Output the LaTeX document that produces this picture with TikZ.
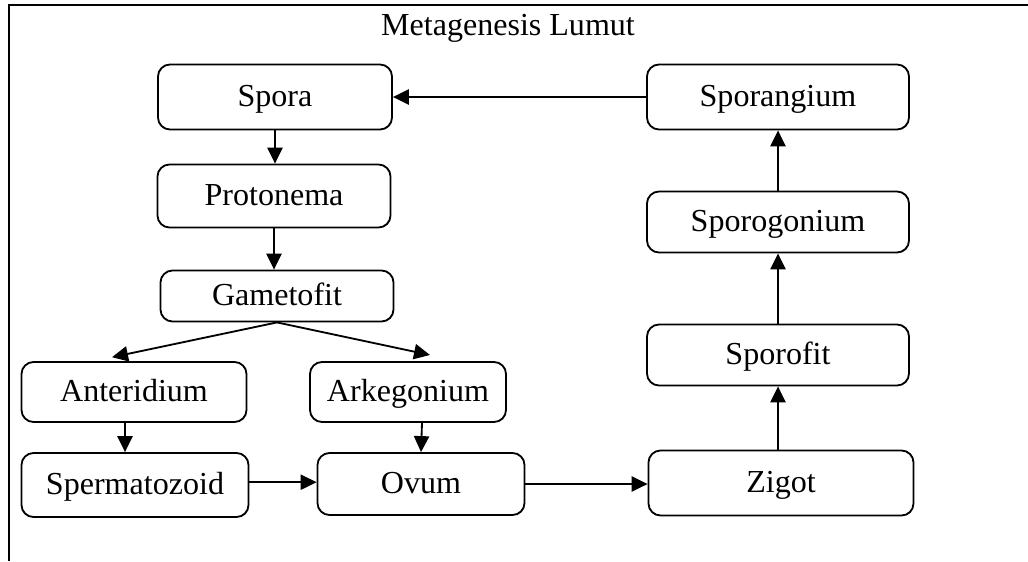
\documentclass[tikz,border=0pt]{standalone}
\usepackage{fontspec}
\setmainfont{Liberation Serif}
\usetikzlibrary{arrows.meta}
\begin{document}
\begin{tikzpicture}[
        box/.style={draw,rounded corners=0.3cm,line width=1.3pt,inner sep=0pt,text height=17pt,text depth=3pt,font=\fontsize{22.8}{27}\selectfont},
        arr/.style={line width=1.3pt,-{Triangle[length=0.4cm,width=0.38cm]}}]
        \useasboundingbox (0,0) rectangle (25.7,-14.025);
        \draw[line width=1.3pt] (25.7,-0.125)--(0.225,-0.125)--(0.225,-14.025);
        \node (title) at (12.7,-0.7) {\fontsize{22.8}{27}\selectfont Metagenesis Lumut};
        \node[box,minimum width=5.85cm,minimum height=1.625cm] (spora) at (6.875,-2.425) {Spora};
        \node[box,minimum width=6.55cm,minimum height=1.625cm] (sporangium) at (19.45,-2.425) {Sporangium};
        \node[box,minimum width=5.825cm,minimum height=1.575cm] (protonema) at (6.85,-4.9) {Protonema};
        \node[box,minimum width=5.825cm,minimum height=1.275cm] (gametofit) at (6.925,-7.4) {Gametofit};
        \node[box,minimum width=5.625cm,minimum height=1.5cm] (anteridium) at (3.35,-9.8) {Anteridium};
        \node[box,minimum width=4.9cm,minimum height=1.5cm] (arkegonium) at (10.2,-9.8) {Arkegonium};
        \node[box,minimum width=5.675cm,minimum height=1.6cm] (spermatozoid) at (3.375,-12.125) {Spermatozoid};
        \node[box,minimum width=5.175cm,minimum height=1.55cm] (ovum) at (10.525,-12.1) {Ovum};
        \node[box,minimum width=6.625cm,minimum height=1.625cm] (zigot) at (19.525,-12.075) {Zigot};
        \node[box,minimum width=6.55cm,minimum height=1.525cm] (sporofit) at (19.45,-8.875) {Sporofit};
        \node[box,minimum width=6.55cm,minimum height=1.525cm] (sporogonium) at (19.45,-5.55) {Sporogonium};
        \coordinate (antin) at (2.8,-8.93);
        \coordinate (arkin) at (10.75,-8.875);
        \draw[arr] (sporangium.west) -- (sporangium.west -| spora.east);
        \draw[arr] (spora.south) -- (spora.south |- protonema.north);
        \draw[arr] (protonema.south) -- (protonema.south |- gametofit.north);
        \draw[arr] (gametofit.south) -- (antin);
        \draw[arr] (gametofit.south) -- (arkin);
        \draw[arr] ([xshift=-0.225cm]anteridium.south) -- ([xshift=-0.25cm]spermatozoid.north);
        \draw[arr] ([xshift=0.35cm]arkegonium.south) -- (ovum.north);
        \draw[arr] ([yshift=0.07cm]spermatozoid.east) -- ([yshift=0.07cm]spermatozoid.east -| ovum.west);
        \draw[arr] (ovum.east) -- (ovum.east -| zigot.west);
        \draw[arr] (sporofit.south |- zigot.north) -- (sporofit.south);
        \draw[arr] (sporofit.north) -- (sporogonium.south);
        \draw[arr] (sporogonium.north) -- (sporangium.south);
\end{tikzpicture}
\end{document}
